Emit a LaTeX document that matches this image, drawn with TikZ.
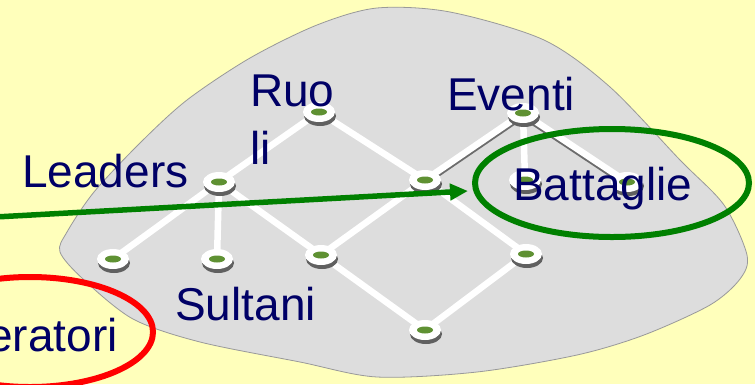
\documentclass[tikz,border=0pt]{standalone}
\usepackage{fontspec}
\setmainfont{Liberation Sans}
\usetikzlibrary{arrows.meta}
\definecolor{bgyellow}{HTML}{FFFFBB}
\definecolor{blobgray}{HTML}{DDDDDD}
\definecolor{labnavy}{HTML}{000066}
\definecolor{coregreen}{HTML}{5F9133}
\definecolor{ringgreen}{HTML}{008000}

\begin{document}
\begin{tikzpicture}[x=1pt,y=-1pt,
    lbl/.style={anchor=base west,inner sep=0,text=labnavy,font=\fontsize{46}{58}\selectfont},
    edge/.style={white,line width=6.5},
    edgeshade/.style={gray!85!black,line width=4.5},
    ring/.style={line width=6,ringgreen}]
	\useasboundingbox (0,0) rectangle (755,384);
	\clip (0,0) rectangle (755,384);
	\fill[bgyellow] (0,0) rectangle (755,384);
	% the grey region
	\filldraw[fill=blobgray,draw=gray!80,line width=0.8] plot[smooth cycle] coordinates {
		(377,8) (450,12) (544,40) (610,87) (680,160) (724,205) (747,255) (740,279)
		(710,305) (644,335) (577,355) (477,372) (377,377) (300,362) (200,342)
		(133,319) (83,279) (60,252) (67,232) (94,192) (140,143) (187,100) (250,58) (317,25)};
	% lattice points
	\coordinate (r) at (319,112);
	\coordinate (e) at (523,113);
	\coordinate (l) at (219,182);
	\coordinate (c) at (425,180);
	\coordinate (b) at (525,180);
	\coordinate (f) at (627,182);
	\coordinate (s1) at (113,259);
	\coordinate (s2) at (217,259);
	\coordinate (m) at (321,255);
	\coordinate (d) at (526,254);
	\coordinate (z) at (425,330);
	\draw[edgeshade] ([yshift=-3.5pt]c)--([yshift=-3.5pt]e)--([yshift=-3.5pt]f);
	\foreach \p/\q in {l/r,r/c,l/s1,l/s2,l/m,m/c,m/z,z/d,d/c,c/e,e/b,e/f}
		\draw[edge] (\p)--(\q);
	\foreach \n in {r,e,l,c,b,f,s1,s2,m,d,z}{
		\fill[gray!75!black] (\n) ++(1,4) ellipse (16pt and 10pt);
		\fill[white] (\n) ellipse (16pt and 10pt);
		\fill[coregreen] (\n) ellipse (8pt and 3.5pt);
	}
	% labels
	\node[lbl,anchor=north west,align=left] (ruoli) at (250,75) {Ruo\\li};
	\node[lbl] (eventi) at (447,110) {Eventi};
	\node[lbl] (leaders) at (22,187) {Leaders};
	\node[lbl] (battaglie) at (513,200) {Battaglie};
	\node[lbl] (sultani) at (175,320) {Sultani};
	\node[lbl,anchor=base east] (imperatori) at (118,351) {Imperatori};
	% rings and arrow
	\draw[ring] (612,183) ellipse (137pt and 54pt);
	\draw[ring,red] (30,332) ellipse (123pt and 55pt);
	\coordinate (src) at (-5,217);
	\coordinate (tip) at (468,191);
	\draw[ring,line width=5.5,-{Triangle[length=18pt,width=16pt]}] (src)--(tip);
\end{tikzpicture}
\end{document}
